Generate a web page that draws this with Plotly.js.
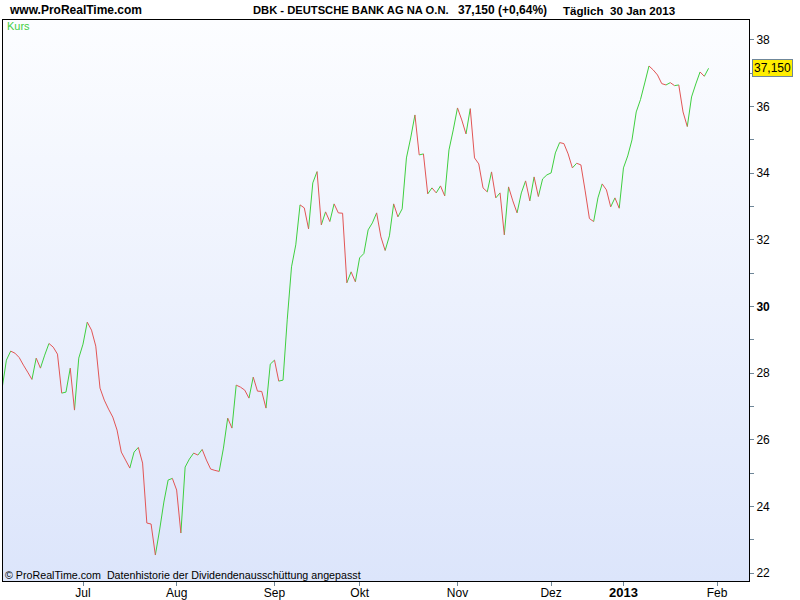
<!DOCTYPE html>
<html>
<head>
<meta charset="utf-8">
<script src="https://cdn.plot.ly/plotly-3.0.1.min.js"></script>
<style>
html,body{margin:0;padding:0;background:#fff;}
#chart{width:800px;height:600px;}
</style>
</head>
<body>
<div id="chart"></div>
<script>
// ---- data ----
const startDate = '2012-06-05';
const endCalendar = '2013-02-01';
const holidays = ['2012-12-24','2012-12-25','2012-12-26','2012-12-31','2013-01-01'];
const closes = [
 27.55,28.39,28.66,28.60,28.47,28.24,28.03,27.81,28.45,28.15,
 28.54,28.89,28.78,28.57,27.40,27.43,28.15,26.89,28.45,28.87,
 29.53,29.29,28.81,27.55,27.19,26.92,26.68,26.29,25.63,25.39,
 25.15,25.63,25.77,25.30,23.50,23.47,22.54,23.29,24.13,24.79,
 24.84,24.49,23.20,25.18,25.42,25.60,25.54,25.71,25.39,25.12,
 25.08,25.05,25.75,26.65,26.35,27.64,27.58,27.49,27.25,27.88,
 27.46,27.45,26.95,28.27,28.39,27.76,27.79,29.62,31.19,31.85,
 33.05,32.96,32.33,33.71,34.05,32.45,32.84,32.55,33.08,32.81,
 32.80,30.71,31.04,30.74,31.46,31.59,32.30,32.51,32.81,32.09,
 31.68,32.12,33.08,32.69,32.93,34.46,35.06,35.75,34.55,34.58,
 33.38,33.56,33.41,33.62,33.32,34.70,35.30,35.96,35.60,35.18,
 35.94,34.46,34.28,33.56,33.44,34.04,33.26,33.41,32.15,33.59,
 33.17,32.81,33.41,33.77,33.17,33.89,33.30,33.83,33.95,34.01,
 34.61,34.92,34.89,34.58,34.16,34.30,34.25,33.47,32.64,32.55,
 33.26,33.68,33.50,32.99,33.26,32.95,34.16,34.52,35.00,35.84,
 36.21,36.71,37.22,37.10,36.95,36.69,36.65,36.72,36.63,36.65,
 35.84,35.40,36.29,36.68,37.04,36.91,37.15
];
const monthLabels = ['Jul','Aug','Sep','Okt','Nov','Dez','<b><span style="font-size:13px">2013</span></b>','Feb'];
const monthKeys   = ['2012-07','2012-08','2012-09','2012-10','2012-11','2012-12','2013-01','2013-02'];
const yTickVals = [22,24,26,28,30,32,34,36,38];
const yTickText = ['22','24','26','28','<b>30</b>','32','34','36','38'];
const lastLabel = '37,150';

// ---- trading-day calendar (weekdays minus exchange holidays) ----
function tradingDays(start, end, hol){
  const out=[]; const d=new Date(start+'T12:00:00Z'); const e=new Date(end+'T12:00:00Z');
  while(d<=e){
    const wd=d.getUTCDay(); const s=d.toISOString().slice(0,10);
    if(wd!==0 && wd!==6 && hol.indexOf(s)<0) out.push(s);
    d.setUTCDate(d.getUTCDate()+1);
  }
  return out;
}
const calendar = tradingDays(startDate, endCalendar, holidays);
const dates = calendar.slice(0, closes.length);

// month ticks: first trading day of each month
const tickVals = monthKeys.map(k => calendar.findIndex(s => s.slice(0,7)===k));

// ---- split into up (green) / down (red) segments ----
const gx=[],gy=[],rx=[],ry=[],gd=[],rd=[];
for(let i=1;i<closes.length;i++){
  const up = closes[i] >= closes[i-1];
  const X = up?gx:rx, Y = up?gy:ry, D = up?gd:rd;
  X.push(i-1,i,null); Y.push(closes[i-1],closes[i],null); D.push(dates[i-1],dates[i],'');
}
const GREEN='#3fcf3f', RED='#e25555';

const traces = [
  {type:'scatter',mode:'lines',x:gx,y:gy,text:gd,line:{color:GREEN,width:1},connectgaps:false,hoverinfo:'skip',showlegend:false},
  {type:'scatter',mode:'lines',x:rx,y:ry,text:rd,line:{color:RED,width:1},connectgaps:false,hoverinfo:'skip',showlegend:false}
];

const FONT = 'Arial, "Liberation Sans", sans-serif';
const svgBg = "<svg xmlns='http://www.w3.org/2000/svg' width='10' height='100' preserveAspectRatio='none'>"+
 "<defs><linearGradient id='g' x1='0' y1='0' x2='0' y2='1'><stop offset='0' stop-color='#fcfdff'/><stop offset='1' stop-color='#dce5fb'/></linearGradient></defs>"+
 "<rect width='10' height='100' fill='url(#g)'/></svg>";
const bgURI = 'data:image/svg+xml;charset=utf-8,'+encodeURIComponent(svgBg);

const W=800,H=600,L=3,R=51,T=20,B=19;
const pw=W-L-R, ph=H-T-B;
const px = xp => (xp-L)/pw;
const py = yp => (H-B-yp)/ph;

const layout = {
  width:W,height:H,
  margin:{l:L,r:R,t:T,b:B,pad:0},
  paper_bgcolor:'#ffffff',
  plot_bgcolor:'rgba(0,0,0,0)',
  font:{family:FONT,size:12,color:'#000'},
  title:{text:'<b>DBK - DEUTSCHE BANK AG NA O.N.</b>',xref:'container',yref:'container',
         x:253/W,xanchor:'left',y:1-10/H,yanchor:'middle',font:{family:FONT,size:11.2,color:'#000'}},
  showlegend:false,
  xaxis:{
    range:[0.2,175.5],showgrid:false,zeroline:false,
    showline:true,linecolor:'#000',linewidth:1,mirror:true,
    tickmode:'array',tickvals:tickVals,ticktext:monthLabels,
    ticks:'outside',ticklen:4,tickcolor:'#6f8799',tickwidth:1,
    ticklabelstandoff:-3,
    tickfont:{family:FONT,size:12,color:'#000'}
  },
  yaxis:{
    side:'right',range:[21.76,38.6],showgrid:false,zeroline:false,
    showline:true,linecolor:'#000',linewidth:1,mirror:true,
    tickmode:'array',tickvals:yTickVals,ticktext:yTickText,
    ticks:'outside',ticklen:4,tickcolor:'#6f8799',tickwidth:1,
    tickfont:{family:FONT,size:12,color:'#000'},
    minor:{tickmode:'linear',tick0:21,dtick:1,ticks:'outside',ticklen:4,tickcolor:'#6f8799',tickwidth:1,showgrid:false}
  },
  images:[{source:bgURI,xref:'paper',yref:'paper',x:0,y:1,sizex:1,sizey:1,sizing:'stretch',layer:'below',xanchor:'left',yanchor:'top'}],
  annotations:[
    {text:'<b>www.ProRealTime.com</b>',xref:'paper',yref:'paper',x:px(7),y:py(10),xanchor:'left',yanchor:'middle',showarrow:false,font:{family:FONT,size:12,color:'#000'}},
    {text:'<b>37,150 (+0,64%)</b>',xref:'paper',yref:'paper',x:px(456),y:py(10),xanchor:'left',yanchor:'middle',showarrow:false,font:{family:FONT,size:12,color:'#000'}},
    {text:'<b>Täglich\u00A0\u00A030 Jan 2013</b>',xref:'paper',yref:'paper',x:px(561),y:py(10),xanchor:'left',yanchor:'middle',showarrow:false,font:{family:FONT,size:11.6,color:'#000'}},
    {text:'Kurs',xref:'paper',yref:'paper',x:px(5),y:py(26),xanchor:'left',yanchor:'middle',showarrow:false,font:{family:FONT,size:11,color:GREEN}},
    {text:'© ProRealTime.com\u00A0\u00A0Datenhistorie der Dividendenausschüttung angepasst',xref:'paper',yref:'paper',x:px(3),y:py(575),xanchor:'left',yanchor:'middle',showarrow:false,font:{family:FONT,size:10.7,color:'#000'}},
    {text:lastLabel,xref:'paper',yref:'y',x:1,xshift:3,y:closes[closes.length-1],xanchor:'left',yanchor:'middle',showarrow:false,
     bgcolor:'#ffee00',bordercolor:'#6f8799',borderwidth:1,borderpad:1,font:{family:FONT,size:12,color:'#000'}}
  ]
};

Plotly.newPlot('chart',traces,layout,{staticPlot:true,displayModeBar:false});
</script>
</body>
</html>
